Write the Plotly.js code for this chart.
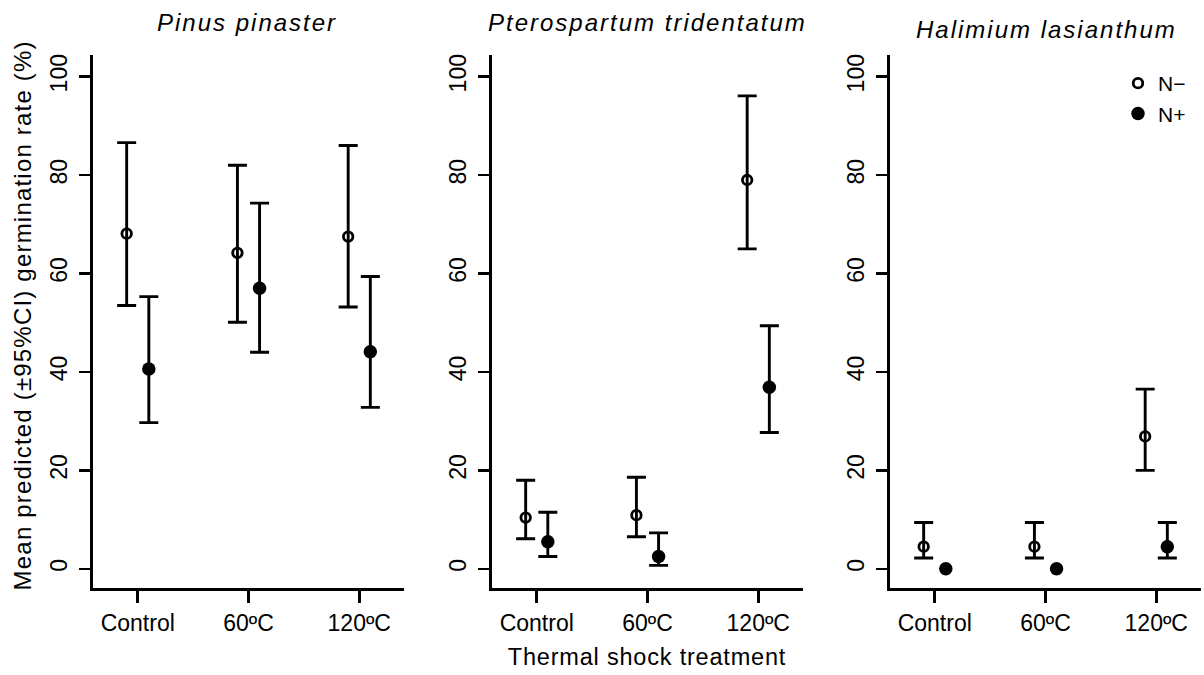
<!DOCTYPE html>
<html>
<head>
<meta charset="utf-8">
<script src="https://cdn.plot.ly/plotly-3.0.1.min.js"></script>
<style>
html,body{margin:0;padding:0;background:#fff;}
#chart{width:1204px;height:675px;}
g.annotation[data-index="0"] text, g.annotation[data-index="1"] text, g.annotation[data-index="2"] text {letter-spacing:2px;}
g.annotation[data-index="3"] text {letter-spacing:1.2px;}
g.annotation[data-index="4"] text {letter-spacing:0.8px;}
</style>
</head>
<body>
<div id="chart"></div>
<script>
// ---- data ----
const categories = ["Control", "60ºC", "120ºC"];
const species = ["Pinus pinaster", "Pterospartum tridentatum", "Halimium lasianthum"];
const seriesNames = ["N\u2212", "N+"];

// Pinus pinaster
const pinusNminusMean  = [68.1, 64.2, 67.5];
const pinusNminusUpper = [86.6, 82.0, 86.0];
const pinusNminusLower = [53.5, 50.1, 53.2];
const pinusNplusMean   = [40.6, 57.0, 44.1];
const pinusNplusUpper  = [55.3, 74.3, 59.4];
const pinusNplusLower  = [29.7, 44.0, 32.8];

// Pterospartum tridentatum
const pteroNminusMean  = [10.4, 10.9, 79.0];
const pteroNminusUpper = [18.0, 18.6, 96.1];
const pteroNminusLower = [6.1, 6.5, 65.0];
const pteroNplusMean   = [5.5, 2.5, 36.9];
const pteroNplusUpper  = [11.5, 7.3, 49.4];
const pteroNplusLower  = [2.5, 0.7, 27.7];

// Halimium lasianthum
const halNminusMean  = [4.5, 4.5, 26.9];
const halNminusUpper = [9.4, 9.4, 36.5];
const halNminusLower = [2.2, 2.2, 20.0];
const halNplusMean   = [0, 0, 4.5];
const halNplusUpper  = [null, null, 9.4];
const halNplusLower  = [null, null, 2.2];

const yTicks = [0, 20, 40, 60, 80, 100];

// ---- build ----
const panels = [
  {nm: [pinusNminusMean, pinusNminusUpper, pinusNminusLower], np: [pinusNplusMean, pinusNplusUpper, pinusNplusLower]},
  {nm: [pteroNminusMean, pteroNminusUpper, pteroNminusLower], np: [pteroNplusMean, pteroNplusUpper, pteroNplusLower]},
  {nm: [halNminusMean, halNminusUpper, halNminusLower], np: [halNplusMean, halNplusUpper, halNplusLower]}
];
const offset = 0.1;
const W = 1204, H = 675;
const px = v => v / W;
const py = v => 1 - v / H;

function errArrays(mean, up, lo) {
  return {
    type: 'data', symmetric: false,
    array: mean.map((m, i) => up[i] == null ? NaN : up[i] - m),
    arrayminus: mean.map((m, i) => lo[i] == null ? NaN : m - lo[i]),
    color: '#000', thickness: 2.9, width: 9.5
  };
}

const traces = [];
panels.forEach((p, k) => {
  const ax = k === 0 ? '' : String(k + 1);
  const base = categories.map((c, i) => i + 1);
  traces.push({
    type: 'scatter', mode: 'markers', name: seriesNames[0],
    x: base.map(b => b - offset), y: p.nm[0],
    error_y: errArrays(p.nm[0], p.nm[1], p.nm[2]),
    marker: {symbol: 'circle-open', size: 9.5, color: '#000', line: {width: 2.8, color: '#000'}},
    xaxis: 'x' + ax, yaxis: 'y' + ax, showlegend: k === 2, hoverinfo: 'x+y'
  });
  traces.push({
    type: 'scatter', mode: 'markers', name: seriesNames[1],
    x: base.map(b => b + offset), y: p.np[0],
    error_y: errArrays(p.np[0], p.np[1], p.np[2]),
    marker: {symbol: 'circle', size: 13.5, color: '#000'},
    xaxis: 'x' + ax, yaxis: 'y' + ax, showlegend: k === 2, hoverinfo: 'x+y'
  });
});

const fam = 'Liberation Sans, Arial, sans-serif';
const font = {family: fam, color: '#000', size: 23};
const xDomains = [[93, 404], [492, 803], [890, 1201]];
const yDomain = [py(588), py(55)];

const layout = {
  width: W, height: H,
  margin: {l: 0, r: 0, t: 0, b: 0},
  paper_bgcolor: '#fff', plot_bgcolor: '#fff',
  font: font,
  showlegend: true,
  legend: {x: px(1118), y: py(63), xanchor: 'left', yanchor: 'top',
           font: {size: 21, color: '#000', family: fam}, bgcolor: 'rgba(0,0,0,0)',
           tracegroupgap: 0, itemwidth: 30},
  annotations: [],
  hovermode: false
};

xDomains.forEach((d, k) => {
  const ax = k === 0 ? '' : String(k + 1);
  layout['xaxis' + ax] = {
    domain: [px(d[0]), px(d[1])], anchor: 'y' + ax,
    range: [0.596, 3.404],
    tickmode: 'array', tickvals: categories.map((c, i) => i + 1), ticktext: categories,
    showline: true, linewidth: 3, linecolor: '#000',
    ticks: 'outside', ticklen: 12, tickwidth: 2.6, tickcolor: '#000',
    showgrid: false, zeroline: false, tickfont: font, ticklabelstandoff: 0
  };
  layout['yaxis' + ax] = {
    domain: yDomain, anchor: 'x' + ax,
    range: [-3.9, 104.4],
    tickmode: 'array', tickvals: yTicks, ticktext: yTicks.map(String),
    tickangle: -90,
    showline: true, linewidth: 3, linecolor: '#000',
    ticks: 'outside', ticklen: 11, tickwidth: 2.6, tickcolor: '#000',
    showgrid: false, zeroline: false, tickfont: font, ticklabelstandoff: 3
  };
});

const titleFont = {family: fam, size: 24, color: '#000', style: 'italic'};
const titlePos = [[247, 23], [647, 23], [1046, 29]];
species.forEach((s, k) => {
  layout.annotations.push({
    text: s, xref: 'paper', yref: 'paper', x: px(titlePos[k][0]), y: py(titlePos[k][1]),
    xanchor: 'center', yanchor: 'middle', showarrow: false, font: titleFont
  });
});
layout.annotations.push({
  text: 'Mean predicted (\u00b195%CI) germination rate (%)', xref: 'paper', yref: 'paper',
  x: px(22), y: py(316), textangle: -90, xanchor: 'center', yanchor: 'middle',
  showarrow: false, font: {family: fam, size: 24, color: '#000'}
});
layout.annotations.push({
  text: 'Thermal shock treatment', xref: 'paper', yref: 'paper',
  x: px(647), y: py(657), xanchor: 'center', yanchor: 'middle',
  showarrow: false, font: {family: fam, size: 23.5, color: '#000'}
});

Plotly.newPlot('chart', traces, layout, {staticPlot: true, displayModeBar: false});
</script>
</body>
</html>
